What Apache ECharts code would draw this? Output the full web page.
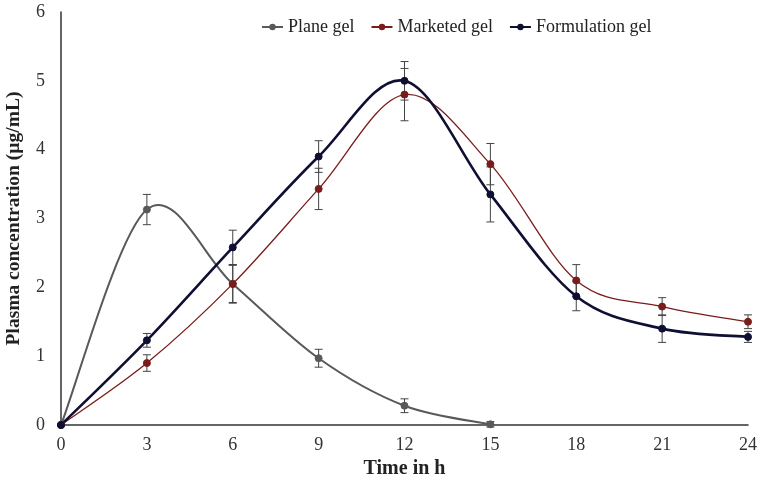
<!DOCTYPE html>
<html>
<head>
<meta charset="utf-8">
<script src="https://cdn.jsdelivr.net/npm/echarts@6/dist/echarts.min.js"></script>
<style>html,body{margin:0;padding:0;background:#fff}#c{width:757px;height:484px}</style>
</head>
<body>
<div id="c"></div>
<script>
var timeH = [0, 3, 6, 9, 12, 15, 18, 21, 24];
var planeGel = [0, 3.13, 2.05, 0.97, 0.28, 0.01];
var planeErr = [0, 0.22, 0.27, 0.13, 0.1, 0.04];
var marketedGel = [0, 0.9, 2.05, 3.43, 4.8, 3.79, 2.1, 1.72, 1.5];
var marketedErr = [0, 0.12, 0.28, 0.3, 0.38, 0.3, 0.23, 0.13, 0.1];
var formulationGel = [0, 1.23, 2.58, 3.9, 5.0, 3.35, 1.87, 1.4, 1.28];
var formulationErr = [0, 0.1, 0.25, 0.23, 0.28, 0.4, 0.21, 0.2, 0.08];
var seriesNames = ['Plane gel', 'Marketed gel', 'Formulation gel'];
var colors = ['#595959', '#7b1c1c', '#0f0f33'];
var widths = [2, 1.3, 2.6];

function pairs(vals) { return vals.map(function (v, i) { return [timeH[i], v]; }); }
function errData(vals, errs) { return vals.map(function (v, i) { return [timeH[i], v - errs[i], v + errs[i]]; }); }
function segData(vals) {
  var out = [];
  var n = vals.length;
  for (var i = 0; i < n - 1; i++) {
    var a = Math.max(i - 1, 0), d = Math.min(i + 2, n - 1);
    out.push([timeH[a], vals[a], timeH[i], vals[i], timeH[i + 1], vals[i + 1], timeH[d], vals[d]]);
  }
  return out;
}

function curveSeries(name, vals, color, width) {
  return {
    name: name,
    type: 'custom',
    data: segData(vals),
    z: 2,
    silent: true,
    renderItem: function (params, api) {
      var pa = api.coord([api.value(0), api.value(1)]);
      var pb = api.coord([api.value(2), api.value(3)]);
      var pc = api.coord([api.value(4), api.value(5)]);
      var pd = api.coord([api.value(6), api.value(7)]);
      var k = 1 / 6;
      return {
        type: 'bezierCurve',
        shape: {
          x1: pb[0], y1: pb[1], x2: pc[0], y2: pc[1],
          cpx1: pb[0] + (pc[0] - pa[0]) * k, cpy1: pb[1] + (pc[1] - pa[1]) * k,
          cpx2: pc[0] - (pd[0] - pb[0]) * k, cpy2: pc[1] - (pd[1] - pb[1]) * k
        },
        style: { stroke: color, lineWidth: width, fill: null }
      };
    }
  };
}

function errorSeries(name, vals, errs) {
  return {
    name: name,
    type: 'custom',
    data: errData(vals, errs),
    z: 1,
    silent: true,
    renderItem: function (params, api) {
      var x = api.value(0);
      var lo = api.coord([x, api.value(1)]);
      var hi = api.coord([x, api.value(2)]);
      var w = 4;
      var st = { stroke: '#444', lineWidth: 1 };
      return {
        type: 'group',
        children: [
          { type: 'line', shape: { x1: lo[0], y1: lo[1], x2: hi[0], y2: hi[1] }, style: st },
          { type: 'line', shape: { x1: lo[0] - w, y1: lo[1], x2: lo[0] + w, y2: lo[1] }, style: st },
          { type: 'line', shape: { x1: hi[0] - w, y1: hi[1], x2: hi[0] + w, y2: hi[1] }, style: st }
        ]
      };
    }
  };
}

function pointSeries(name, vals, color) {
  return {
    name: name,
    type: 'line',
    data: pairs(vals),
    symbol: 'circle',
    symbolSize: 7,
    z: 3,
    lineStyle: { opacity: 0 },
    itemStyle: { color: color, borderColor: color }
  };
}

var chart = echarts.init(document.getElementById('c'));
chart.setOption({
  animation: false,
  textStyle: { fontFamily: 'Liberation Serif' },
  legend: {
    top: 13,
    left: 256,
    itemGap: 16,
    itemWidth: 21,
    itemHeight: 8,
    textStyle: { fontFamily: 'Liberation Serif', fontSize: 18, color: '#222' },
    data: seriesNames.map(function (n, i) {
      return { name: n, lineStyle: { opacity: 1, color: colors[i], width: 2 }, itemStyle: { color: colors[i] } };
    })
  },
  grid: { left: 61, right: 9, top: 12, bottom: 59, containLabel: false, outerBoundsMode: 'none' },
  xAxis: {
    type: 'value', min: 0, max: 24, interval: 3,
    name: 'Time in h', nameLocation: 'middle', nameGap: 31,
    nameTextStyle: { fontFamily: 'Liberation Serif', fontSize: 20, fontWeight: 'bold', color: '#222' },
    axisLine: { lineStyle: { color: '#333', width: 1.5 } },
    axisTick: { show: false },
    splitLine: { show: false },
    axisLabel: { fontFamily: 'Liberation Serif', fontSize: 18, color: '#333', margin: 11 }
  },
  yAxis: {
    type: 'value', min: 0, max: 6, interval: 1,
    name: 'Plasma concentration (µg/mL)', nameLocation: 'middle', nameGap: 37,
    nameTextStyle: { fontFamily: 'Liberation Serif', fontSize: 19.5, fontWeight: 'bold', color: '#222' },
    axisLine: { show: true, lineStyle: { color: '#333', width: 1.5 } },
    axisTick: { show: false },
    splitLine: { show: false },
    axisLabel: { fontFamily: 'Liberation Serif', fontSize: 18, color: '#333', margin: 16 }
  },
  series: [
    pointSeries(seriesNames[0], planeGel, colors[0]),
    pointSeries(seriesNames[1], marketedGel, colors[1]),
    pointSeries(seriesNames[2], formulationGel, colors[2]),
    curveSeries(seriesNames[0], planeGel, colors[0], widths[0]),
    curveSeries(seriesNames[1], marketedGel, colors[1], widths[1]),
    curveSeries(seriesNames[2], formulationGel, colors[2], widths[2]),
    errorSeries(seriesNames[0], planeGel, planeErr),
    errorSeries(seriesNames[1], marketedGel, marketedErr),
    errorSeries(seriesNames[2], formulationGel, formulationErr)
  ]
});
</script>
</body>
</html>
